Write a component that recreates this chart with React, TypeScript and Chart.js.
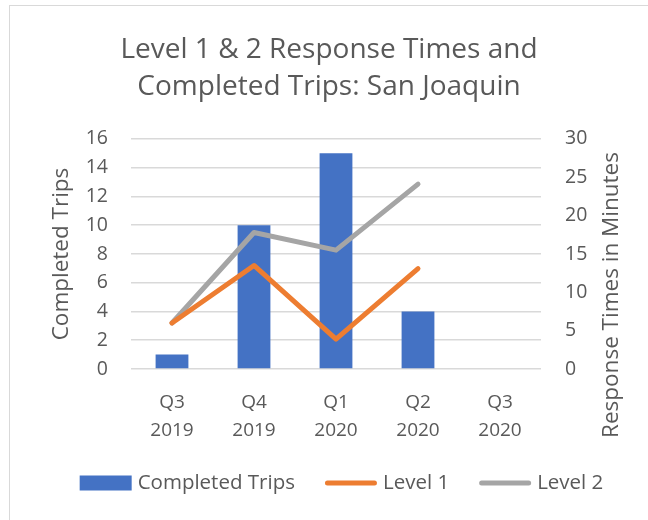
import React, { useEffect, useRef } from "react";
import { Chart, registerables } from "chart.js";

Chart.register(...registerables);

const categories: string[][] = [
  ["Q3", "2019"],
  ["Q4", "2019"],
  ["Q1", "2020"],
  ["Q2", "2020"],
  ["Q3", "2020"],
];
const completedTrips: (number | null)[] = [1, 10, 15, 4, null];
const level1: (number | null)[] = [6, 13.5, 3.9, 13.1, null];
const level2: (number | null)[] = [6, 17.8, 15.5, 24.1, null];

const titleLines = ["Level 1 & 2 Response Times and", "Completed Trips: San Joaquin"];
const leftTitle = "Completed Trips";
const rightTitle = "Response Times in Minutes";

const FONT = "'Open Sans', sans-serif";
const TEXT = "#595959";

const axisTitles = {
  id: "axisTitles",
  afterDraw(chart: any) {
    const ctx = chart.ctx;
    const drawRot = (text: string, x: number, y: number) => {
      ctx.save();
      ctx.fillStyle = TEXT;
      ctx.font = `22.5px ${FONT}`;
      ctx.textAlign = "center";
      ctx.textBaseline = "middle";
      ctx.translate(x, y);
      ctx.rotate(-Math.PI / 2);
      ctx.fillText(text, 0, 0);
      ctx.restore();
    };
    drawRot(leftTitle, 52, 248);
    drawRot(rightTitle, 602, 289);
  },
};

const customLegend = {
  id: "customLegend",
  afterDraw(chart: any) {
    const ctx = chart.ctx;
    const ds = chart.data.datasets;
    const boxW = 52;
    const gapText = 6;
    const gapItem = 30;
    const cy = 477;
    ctx.save();
    ctx.font = `20.5px ${FONT}`;
    const widths = ds.map((d: any) => ctx.measureText(d.label).width);
    const total =
      widths.reduce((a: number, w: number) => a + boxW + gapText + w, 0) + gapItem * (ds.length - 1);
    let x = 331.5 - total / 2;
    ds.forEach((d: any, i: number) => {
      if (d.type === "bar") {
        ctx.fillStyle = d.backgroundColor;
        ctx.fillRect(x, cy - 7.5, boxW, 15);
      } else {
        ctx.strokeStyle = d.borderColor;
        ctx.lineWidth = 5;
        ctx.lineCap = "round";
        ctx.beginPath();
        ctx.moveTo(x + 2.5, cy);
        ctx.lineTo(x + boxW - 2.5, cy);
        ctx.stroke();
      }
      x += boxW + gapText;
      ctx.fillStyle = TEXT;
      ctx.textAlign = "left";
      ctx.textBaseline = "middle";
      ctx.fillText(d.label, x, cy);
      x += widths[i] + gapItem;
    });
    ctx.restore();
  },
};

export default function App() {
  const ref = useRef<HTMLCanvasElement>(null);
  useEffect(() => {
    document.documentElement.style.overflow = "hidden";
    const chart = new Chart(ref.current!, {
      type: "bar",
      data: {
        labels: categories,
        datasets: [
          {
            type: "bar",
            label: "Completed Trips",
            data: completedTrips,
            backgroundColor: "#4472C4",
            yAxisID: "y",
            order: 1,
            categoryPercentage: 1,
            barPercentage: 0.4,
          },
          {
            type: "line",
            label: "Level 1",
            data: level1,
            borderColor: "#ED7D31",
            backgroundColor: "#ED7D31",
            borderWidth: 5,
            borderCapStyle: "round",
            borderJoinStyle: "round",
            pointRadius: 0,
            tension: 0,
            yAxisID: "y1",
            order: 0,
          },
          {
            type: "line",
            label: "Level 2",
            data: level2,
            borderColor: "#A5A5A5",
            backgroundColor: "#A5A5A5",
            borderWidth: 5,
            borderCapStyle: "round",
            borderJoinStyle: "round",
            pointRadius: 0,
            tension: 0,
            yAxisID: "y1",
            order: 0,
          },
        ],
      } as any,
      options: {
        responsive: false,
        animation: false,
        layout: { padding: { top: 0, bottom: 57, left: 0, right: 0 } },
        plugins: {
          title: {
            display: true,
            text: titleLines,
            color: TEXT,
            font: { family: FONT, size: 28, weight: "normal", lineHeight: 1.32 },
            padding: { top: 25.5, bottom: 33.5 },
          },
          legend: { display: false },
          tooltip: { enabled: false },
        },
        scales: {
          x: {
            grid: { display: false, drawTicks: false },
            border: { display: false },
            ticks: { color: TEXT, font: { family: FONT, size: 19, lineHeight: 1.5 }, padding: 19, maxRotation: 0 },
            afterFit: (s: any) => {
              s.height = 94;
            },
          },
          y: {
            position: "left",
            min: 0,
            max: 16,
            ticks: { stepSize: 2, color: TEXT, font: { family: FONT, size: 19.5 }, padding: 23 },
            grid: { color: "#d9d9d9", lineWidth: 1.6, drawTicks: false },
            border: { display: false },
            afterFit: (s: any) => {
              s.width = 121;
            },
          },
          y1: {
            position: "right",
            min: 0,
            max: 30,
            ticks: { stepSize: 5, color: TEXT, font: { family: FONT, size: 19.5 }, padding: 24 },
            grid: { display: false, drawTicks: false },
            border: { display: false },
            afterFit: (s: any) => {
              s.width = 107;
            },
          },
        },
      } as any,
      plugins: [axisTitles, customLegend],
    });
    return () => chart.destroy();
  }, []);
  return (
    <div
      style={{
        position: "absolute",
        left: 9,
        top: 5,
        width: 660,
        height: 540,
        border: "1px solid #d9d9d9",
        background: "#fff",
      }}
    >
      <canvas ref={ref} width={638} height={514} style={{ display: "block" }} />
    </div>
  );
}
